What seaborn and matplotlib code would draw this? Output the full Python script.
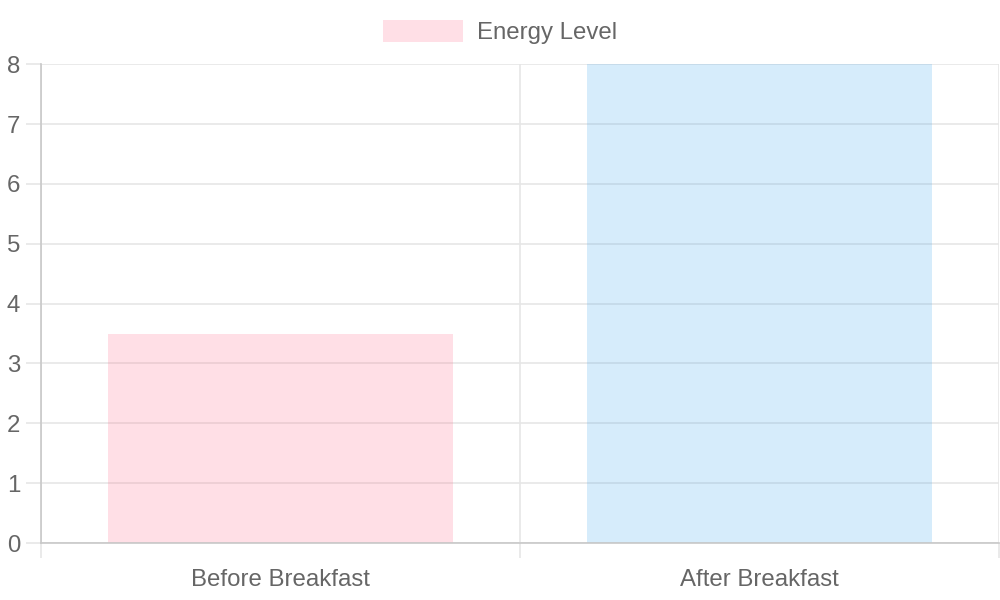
import matplotlib
matplotlib.use("Agg")
import matplotlib.pyplot as plt
from matplotlib.patches import Patch
from matplotlib.ticker import FixedLocator
import seaborn as sns
import pandas as pd

# data
categories = ["Before Breakfast", "After Breakfast"]
energy_values = [3.5, 8]
bar_colors = ["#ff6384", "#36a2eb"]
y_ticks = [0, 1, 2, 3, 4, 5, 6, 7, 8]
legend_label = "Energy Level"

sns.set_style("white")
plt.rcParams["font.family"] = ["Liberation Sans", "DejaVu Sans"]

TEXT = "#666666"
GRID = "#e6e6e6"
AXIS = "#c8c8c8"
FS = 17.3  # ~24px at dpi 100

df = pd.DataFrame({"Time": categories, "Energy": energy_values})

fig = plt.figure(figsize=(10, 6), dpi=100)
ax = fig.add_axes([0.041, 0.095, 0.958, 0.798])

sns.barplot(data=df, x="Time", y="Energy", hue="Time", palette=bar_colors,
            saturation=1, legend=False, width=0.72, alpha=0.2, linewidth=0,
            ax=ax)

ax.set_xlim(-0.5, 1.5)
ax.set_ylim(0, 8)
ax.set_yticks(y_ticks)
ax.set_xticks(range(len(categories)))
ax.set_xticklabels(categories)
ax.xaxis.set_minor_locator(FixedLocator([-0.5, 0.5, 1.5]))

ax.set_axisbelow(True)
ax.grid(axis="y", which="major", color=GRID, linewidth=1.2)
ax.grid(axis="x", which="minor", color=GRID, linewidth=1.2)

ax.tick_params(axis="y", which="major", length=11, width=1.2, color=GRID,
               labelsize=FS, labelcolor=TEXT, pad=4, left=True)
ax.tick_params(axis="x", which="major", length=0, labelsize=FS,
               labelcolor=TEXT, pad=19)
ax.tick_params(axis="x", which="minor", length=11, width=1.2, color=GRID,
               bottom=True)

for side in ["top", "right"]:
    ax.spines[side].set_visible(False)
for side in ["left", "bottom"]:
    ax.spines[side].set_color(AXIS)
    ax.spines[side].set_linewidth(1.2)

ax.set_xlabel("")
ax.set_ylabel("")

handle = Patch(facecolor=bar_colors[0], alpha=0.2, edgecolor="none")
fig.legend([handle], [legend_label], loc="center",
           bbox_to_anchor=(0.5, 1 - 32 / 600), frameon=False,
           fontsize=FS, labelcolor=TEXT, handlelength=3.33,
           handleheight=1.0, handletextpad=0.58)

plt.savefig("out.png", dpi=100)
